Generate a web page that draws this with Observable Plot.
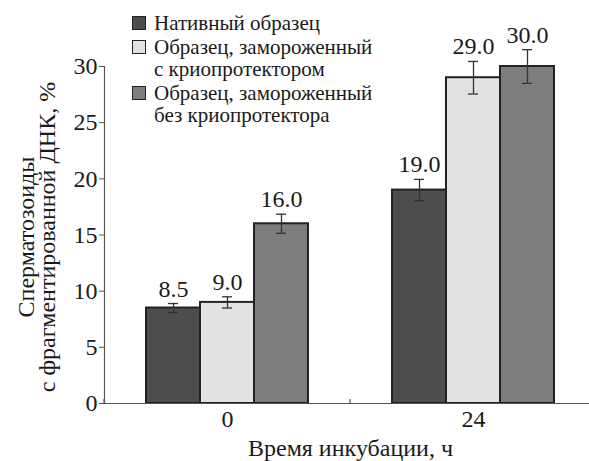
<!DOCTYPE html>
<html><head><meta charset="utf-8">
<script src="https://cdn.jsdelivr.net/npm/d3@7"></script>
<script src="https://cdn.jsdelivr.net/npm/@observablehq/plot@0.6"></script>
<style>
html,body{margin:0;padding:0;background:#fff;overflow:hidden}
#wrap{position:relative;width:589px;height:461px;color:#1a1a1a}
#legend{position:absolute;left:132px;top:12px;font-size:21px;line-height:22px}
.item{display:flex;align-items:flex-start;margin-bottom:2px}
.sw{width:12px;height:12px;border:1.5px solid #222;margin-right:8px;margin-top:4px;flex:none}
</style></head>
<body><div id="wrap"><div id="chart"></div><div id="legend"></div></div>
<script>
const times = ["0", "24"];
const series = ["Нативный образец", "Образец, замороженный с криопротектором", "Образец, замороженный без криопротектора"];
const legendLines = [["Нативный образец"], ["Образец, замороженный", "с криопротектором"], ["Образец, замороженный", "без криопротектора"]];
const values0 = [8.5, 9.0, 16.0];
const values24 = [19.0, 29.0, 30.0];
const errors0 = [0.4, 0.5, 0.85];
const errors24 = [0.95, 1.45, 1.5];
const colors = ["#4d4d4d", "#e2e2e2", "#7d7d7d"];
const yTicks = [0, 5, 10, 15, 20, 25, 30];
const xLabel = "Время инкубации, ч";
const yLabel = "Сперматозоиды\nс фрагментированной ДНК, %";

// pick an installed serif face
function pickFont() {
  const cands = ["Liberation Serif", "Times New Roman", "Tinos", "Times", "DejaVu Serif", "Noto Serif", "FreeSerif", "serif"];
  const c = document.createElement("canvas").getContext("2d");
  const probe = "Время инкубации Сперматозоиды 0123456789";
  const w = f => { c.font = "40px " + f; return c.measureText(probe).width; };
  const base1 = w("monospace");
  for (const f of cands.slice(0, -1)) {
    const a = w(`"${f}", monospace`), b = w(`"${f}", sans-serif`);
    if (a === b && a !== base1) return `"${f}", serif`;
  }
  return "serif";
}
const FONT = pickFont();
document.getElementById("wrap").style.fontFamily = FONT;

const rows = [];
series.forEach((s, i) => {
  rows.push({time: times[0], series: s, value: values0[i], err: errors0[i]});
  rows.push({time: times[1], series: s, value: values24[i], err: errors24[i]});
});

const boundaryTick = (index, {y}, values, dims) => {
  const l = document.createElementNS("http://www.w3.org/2000/svg", "line");
  l.setAttribute("x1", dims.marginLeft); l.setAttribute("x2", dims.marginLeft);
  l.setAttribute("y1", y(0)); l.setAttribute("y2", y(0) - 4);
  l.setAttribute("stroke", "#555"); l.setAttribute("stroke-width", 1.2);
  return l;
};

const chart = Plot.plot({
  width: 589, height: 461,
  marginLeft: 104, marginRight: -7, marginTop: 66, marginBottom: 58,
  style: {fontFamily: FONT, fontSize: "24px", color: "#1a1a1a", background: "#fff"},
  fx: {domain: times, padding: 0},
  x: {domain: series, paddingInner: 0, paddingOuter: 0.75, axis: null},
  y: {domain: [0, 30], label: null},
  color: {domain: series, range: colors},
  marks: [
    Plot.barY(rows, {fx: "time", x: "series", y: "value", fill: "series", stroke: "#222", strokeWidth: 2}),
    Plot.ruleX(rows, {fx: "time", x: "series", y1: d => d.value - d.err, y2: d => d.value + d.err, stroke: "#333", strokeWidth: 1.3}),
    Plot.tickY(rows, {fx: "time", x: "series", y: d => d.value - d.err, stroke: "#333", strokeWidth: 1.3, insetLeft: 22, insetRight: 22}),
    Plot.tickY(rows, {fx: "time", x: "series", y: d => d.value + d.err, stroke: "#333", strokeWidth: 1.3, insetLeft: 22, insetRight: 22}),
    Plot.text(rows, {fx: "time", x: "series", y: d => d.value + d.err, text: d => d.value.toFixed(1), lineAnchor: "bottom", dy: -7, fontSize: 24, fill: "#1a1a1a"}),
    Plot.ruleY([0], {stroke: "#555", strokeWidth: 1.2}),
    Plot.frame({anchor: "left", facetAnchor: "left", stroke: "#555", strokeWidth: 1.2}),
    boundaryTick,
    Plot.axisY({ticks: yTicks, tickSize: 5, tickPadding: 2, fontSize: 24, stroke: "#555", label: null}),
    Plot.axisFx({anchor: "bottom", tickSize: 0, tickPadding: 6, fontSize: 24, label: xLabel, labelAnchor: "center", labelOffset: 52}),
    Plot.text([yLabel], {frameAnchor: "left", facetAnchor: "left", rotate: -90, textAnchor: "middle", dx: -67, dy: 2, fontSize: 24, lineHeight: 0.88, fill: "#1a1a1a"})
  ]
});
document.getElementById("chart").appendChild(chart);

const leg = document.getElementById("legend");
legendLines.forEach((lines, i) => {
  const it = document.createElement("div"); it.className = "item";
  const sw = document.createElement("div"); sw.className = "sw"; sw.style.background = colors[i];
  const tx = document.createElement("div"); tx.innerHTML = lines.join("<br>");
  it.appendChild(sw); it.appendChild(tx); leg.appendChild(it);
});
</script></body></html>
